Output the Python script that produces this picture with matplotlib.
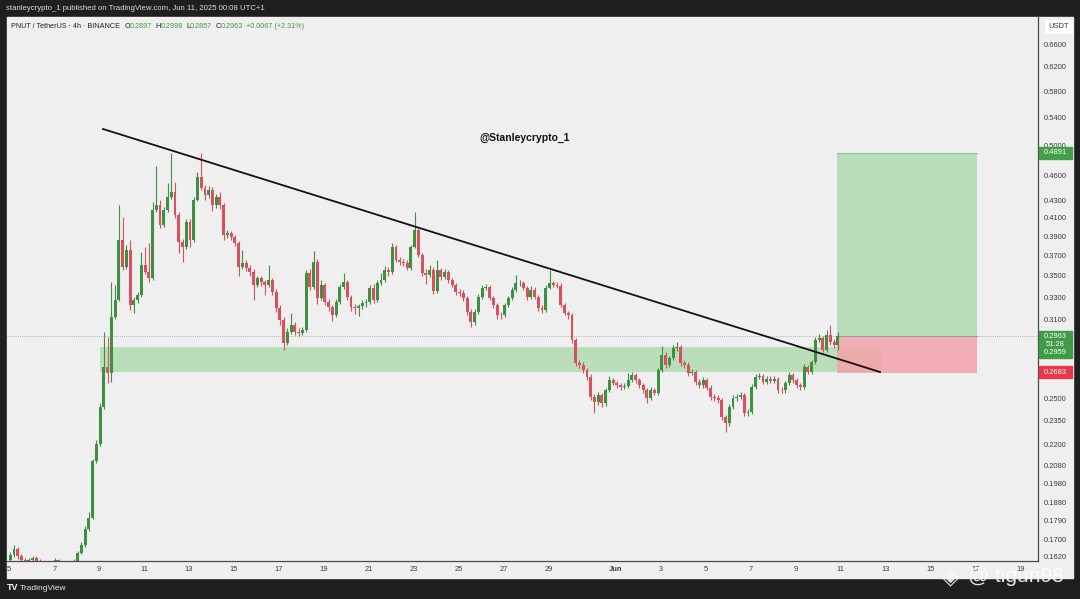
import numpy as np
import matplotlib
matplotlib.use("Agg")
import matplotlib.pyplot as plt
from matplotlib.patches import Rectangle
from matplotlib.ticker import FixedLocator, NullLocator

plt.rcParams['font.family'] = ['Liberation Sans', 'DejaVu Sans']

W, H = 1080, 599

# PNUT/USDT 4h candles, May 5 01:00 -> Jun 10 21:00 (UTC+1)
first_open = 0.1605
closes = [
    0.1628, 0.1655, 0.1623, 0.1605, 0.1596, 0.1605, 0.1614, 0.1600, 0.1592, 0.1583,
    0.1578, 0.1592, 0.1605, 0.1587, 0.1578, 0.1574, 0.1583, 0.1600, 0.1637, 0.1673,
    0.1748, 0.1801, 0.2106, 0.2206, 0.2441, 0.2725, 0.2680, 0.3124, 0.3273, 0.3858,
    0.3583, 0.3753, 0.3228, 0.3273, 0.3318, 0.3602, 0.3534, 0.3476, 0.4188, 0.4246,
    0.4020, 0.4188, 0.4341, 0.4400, 0.4131, 0.3837, 0.3785, 0.4053, 0.3858, 0.4305,
    0.4585, 0.4449, 0.4364, 0.4424, 0.4246, 0.4341, 0.4246, 0.3911, 0.3933, 0.3890,
    0.3827, 0.3583, 0.3622, 0.3573, 0.3534, 0.3410, 0.3476, 0.3438, 0.3410, 0.3457,
    0.3346, 0.3202, 0.3098, 0.2909, 0.2999, 0.3057, 0.2999, 0.2991, 0.3015, 0.3524,
    0.3392, 0.3632, 0.3291, 0.3410, 0.3255, 0.3211, 0.3141, 0.3255, 0.3392, 0.3438,
    0.3300, 0.3211, 0.3202, 0.3220, 0.3246, 0.3255, 0.3383, 0.3273, 0.3429, 0.3457,
    0.3553, 0.3534, 0.3785, 0.3652, 0.3632, 0.3622, 0.3573, 0.3785, 0.3965, 0.3703,
    0.3524, 0.3505, 0.3553, 0.3355, 0.3553, 0.3486, 0.3534, 0.3457, 0.3410, 0.3346,
    0.3337, 0.3291, 0.3167, 0.3081, 0.3167, 0.3300, 0.3383, 0.3392, 0.3291, 0.3228,
    0.3141, 0.3138, 0.3228, 0.3291, 0.3364, 0.3429, 0.3432, 0.3383, 0.3300, 0.3364,
    0.3300, 0.3202, 0.3184, 0.3383, 0.3429, 0.3410, 0.3405, 0.3228, 0.3158, 0.3141,
    0.2933, 0.2754, 0.2740, 0.2702, 0.2651, 0.2510, 0.2475, 0.2524, 0.2468, 0.2558,
    0.2629, 0.2608, 0.2593, 0.2579, 0.2586, 0.2629, 0.2665, 0.2629, 0.2593, 0.2558,
    0.2503, 0.2558, 0.2537, 0.2702, 0.2815, 0.2740, 0.2792, 0.2870, 0.2878, 0.2754,
    0.2740, 0.2680, 0.2687, 0.2615, 0.2593, 0.2629, 0.2572, 0.2510, 0.2503, 0.2489,
    0.2375, 0.2337, 0.2441, 0.2503, 0.2510, 0.2524, 0.2402, 0.2408, 0.2579, 0.2651,
    0.2658, 0.2615, 0.2636, 0.2622, 0.2636, 0.2558, 0.2555, 0.2608, 0.2665, 0.2629,
    0.2593, 0.2579, 0.2725, 0.2687, 0.2762, 0.2933, 0.2950, 0.2854, 0.2974, 0.2917,
    0.2897, 0.2963,
]
highs = [
    0.1640, 0.1673, 0.1665, 0.1632, 0.1615, 0.1614, 0.1625, 0.1622, 0.1608, 0.1600,
    0.1592, 0.1600, 0.1615, 0.1612, 0.1595, 0.1586, 0.1592, 0.1608, 0.1645, 0.1685,
    0.1760, 0.1830, 0.2120, 0.2230, 0.2470, 0.2999, 0.2958, 0.3438, 0.3410, 0.4246,
    0.4109, 0.3806, 0.3858, 0.3300, 0.3345, 0.3733, 0.3785, 0.3827, 0.4282, 0.4725,
    0.4305, 0.4220, 0.4510, 0.4896, 0.4522, 0.4160, 0.3870, 0.4085, 0.4090, 0.4340,
    0.4648, 0.4896, 0.4480, 0.4470, 0.4460, 0.4380, 0.4400, 0.4270, 0.3960, 0.3955,
    0.3915, 0.3850, 0.3753, 0.3650, 0.3600, 0.3560, 0.3500, 0.3500, 0.3460, 0.3602,
    0.3480, 0.3370, 0.3225, 0.3120, 0.3030, 0.3158, 0.3080, 0.3030, 0.3040, 0.3553,
    0.3560, 0.3743, 0.3660, 0.3460, 0.3430, 0.3280, 0.3230, 0.3280, 0.3420, 0.3520,
    0.3460, 0.3320, 0.3240, 0.3240, 0.3270, 0.3280, 0.3410, 0.3420, 0.3460, 0.3520,
    0.3590, 0.3580, 0.3830, 0.3810, 0.3680, 0.3660, 0.3650, 0.3810, 0.4165, 0.3990,
    0.3720, 0.3560, 0.3600, 0.3580, 0.3650, 0.3575, 0.3560, 0.3555, 0.3480, 0.3430,
    0.3370, 0.3360, 0.3310, 0.3190, 0.3190, 0.3330, 0.3410, 0.3420, 0.3410, 0.3310,
    0.3250, 0.3170, 0.3250, 0.3310, 0.3390, 0.3505, 0.3460, 0.3450, 0.3400, 0.3400,
    0.3390, 0.3320, 0.3225, 0.3410, 0.3553, 0.3450, 0.3440, 0.3425, 0.3250, 0.3180,
    0.3160, 0.2950, 0.2775, 0.2760, 0.2720, 0.2670, 0.2530, 0.2545, 0.2540, 0.2575,
    0.2660, 0.2645, 0.2625, 0.2610, 0.2605, 0.2680, 0.2685, 0.2680, 0.2645, 0.2610,
    0.2570, 0.2580, 0.2575, 0.2720, 0.2886, 0.2835, 0.2810, 0.2890, 0.2917, 0.2895,
    0.2775, 0.2760, 0.2710, 0.2700, 0.2635, 0.2650, 0.2645, 0.2590, 0.2530, 0.2525,
    0.2505, 0.2390, 0.2460, 0.2525, 0.2530, 0.2545, 0.2540, 0.2430, 0.2600, 0.2670,
    0.2680, 0.2675, 0.2655, 0.2660, 0.2655, 0.2650, 0.2580, 0.2625, 0.2690, 0.2680,
    0.2645, 0.2610, 0.2745, 0.2740, 0.2780, 0.2955, 0.2985, 0.2965, 0.3015, 0.3057,
    0.2940, 0.2998,
]
lows = [
    0.1595, 0.1620, 0.1612, 0.1596, 0.1585, 0.1588, 0.1598, 0.1590, 0.1582, 0.1574,
    0.1568, 0.1570, 0.1585, 0.1578, 0.1570, 0.1566, 0.1568, 0.1576, 0.1594, 0.1630,
    0.1665, 0.1740, 0.1795, 0.2095, 0.2195, 0.2430, 0.2608, 0.2615, 0.3110, 0.3260,
    0.3553, 0.3560, 0.3184, 0.3158, 0.3250, 0.3300, 0.3510, 0.3438, 0.3460, 0.4160,
    0.3990, 0.3995, 0.4170, 0.4320, 0.4100, 0.3723, 0.3632, 0.3760, 0.3780, 0.3840,
    0.4290, 0.4420, 0.4300, 0.4330, 0.4180, 0.4210, 0.4200, 0.3860, 0.3880, 0.3860,
    0.3790, 0.3500, 0.3560, 0.3540, 0.3500, 0.3273, 0.3390, 0.3400, 0.3318, 0.3390,
    0.3320, 0.3170, 0.3060, 0.2854, 0.2890, 0.2985, 0.2975, 0.2965, 0.2975, 0.3000,
    0.3360, 0.3370, 0.3240, 0.3270, 0.3225, 0.3180, 0.3090, 0.3120, 0.3240, 0.3370,
    0.3270, 0.3180, 0.3150, 0.3130, 0.3195, 0.3215, 0.3240, 0.3250, 0.3255, 0.3410,
    0.3440, 0.3500, 0.3515, 0.3630, 0.3600, 0.3595, 0.3550, 0.3555, 0.3770, 0.3680,
    0.3500, 0.3420, 0.3485, 0.3330, 0.3340, 0.3460, 0.3470, 0.3430, 0.3390, 0.3320,
    0.3310, 0.3265, 0.3140, 0.3040, 0.3060, 0.3150, 0.3280, 0.3360, 0.3270, 0.3200,
    0.3110, 0.3110, 0.3120, 0.3210, 0.3270, 0.3350, 0.3400, 0.3360, 0.3270, 0.3280,
    0.3280, 0.3180, 0.3160, 0.3170, 0.3370, 0.3390, 0.3380, 0.3210, 0.3140, 0.3110,
    0.2910, 0.2730, 0.2715, 0.2680, 0.2630, 0.2490, 0.2402, 0.2455, 0.2440, 0.2450,
    0.2545, 0.2590, 0.2575, 0.2560, 0.2565, 0.2570, 0.2615, 0.2610, 0.2575, 0.2540,
    0.2470, 0.2490, 0.2520, 0.2525, 0.2690, 0.2720, 0.2725, 0.2775, 0.2850, 0.2735,
    0.2720, 0.2660, 0.2665, 0.2595, 0.2575, 0.2575, 0.2555, 0.2490, 0.2485, 0.2470,
    0.2355, 0.2280, 0.2320, 0.2425, 0.2485, 0.2495, 0.2385, 0.2385, 0.2395, 0.2565,
    0.2635, 0.2600, 0.2600, 0.2605, 0.2605, 0.2540, 0.2535, 0.2540, 0.2595, 0.2610,
    0.2575, 0.2560, 0.2565, 0.2670, 0.2670, 0.2750, 0.2915, 0.2835, 0.2840, 0.2895,
    0.2870, 0.2857,
]

# x axis: days since May 5 00:00
xtick_days = [0, 2, 4, 6, 8, 10, 12, 14, 16, 18, 20, 22, 24,
              27, 29, 31, 33, 35, 37, 39, 41, 43, 45]
xtick_labels = ['5', '7', '9', '11', '13', '15', '17', '19', '21', '23', '25', '27', '29',
                'Jun', '3', '5', '7', '9', '11', '13', '15', '17', '19']
ytick_vals = [0.66, 0.62, 0.58, 0.54, 0.50, 0.46, 0.43, 0.41, 0.39, 0.37, 0.35, 0.33,
              0.31, 0.25, 0.235, 0.22, 0.208, 0.198, 0.188, 0.179, 0.17, 0.162]

# drawings
zone_lo, zone_hi = 0.2687, 0.2878
zone_start, zone_end = 4.04, 38.8
trend_days = [4.17, 38.75]
trend_prices = [0.5229, 0.2687]
entry, target, stop = 0.2963, 0.4891, 0.2683
pos_start, pos_end = 36.83, 43.06
last_price = 0.2963

GREEN = '#3f8f43'
RED = '#d9505f'
BG = '#efefef'
DARK = '#1f1f1f'

opens = [first_open] + closes[:-1]
t = (1 + 4 * np.arange(len(closes))) / 24.0


def fx(px):
    return px / W


def fy(py):
    return 1 - py / H


fig = plt.figure(figsize=(W / 100, H / 100), dpi=100, facecolor=DARK)
fig.add_artist(Rectangle((fx(7), fy(578)), fx(1073) - fx(7), fy(17) - fy(578),
                         transform=fig.transFigure, color=BG, zorder=0))

ax = fig.add_axes([fx(7), fy(561), fx(1038) - fx(7), fy(17) - fy(561)])
ax.set_facecolor(BG)
ax.set_yscale('log')
ax.set_ylim(0.1601, 0.7107)
ax.set_xlim(-0.102, 45.78)

# demand zone
ax.add_patch(Rectangle((zone_start, zone_lo), zone_end - zone_start, zone_hi - zone_lo,
                       facecolor='#8fcf8f', alpha=0.55, edgecolor='none', zorder=1))

# long position tool
ax.add_patch(Rectangle((pos_start, entry), pos_end - pos_start, target - entry,
                       facecolor='#a8d8a8', alpha=0.75, edgecolor='none', zorder=1))
ax.add_patch(Rectangle((pos_start, stop), pos_end - pos_start, entry - stop,
                       facecolor='#f4a3ab', alpha=0.85, edgecolor='none', zorder=1))
ax.plot([pos_start, pos_end], [target, target], color='#8fc48f', lw=0.8, zorder=2)
ax.plot([pos_start, pos_end], [entry, entry], color='#9a9a9a', lw=0.8, zorder=2)

ax.axhline(last_price, color='#a0a0a0', lw=0.6, ls=(0, (1, 1.5)), zorder=1)

# candles
colors = [GREEN if c >= o else RED for o, c in zip(opens, closes)]
ax.vlines(t, lows, highs, colors=colors, lw=0.8, zorder=3)
bottoms = np.minimum(opens, closes)
heights = np.maximum(np.abs(np.array(closes) - np.array(opens)), 0.0004)
ax.bar(t, heights, bottom=bottoms, width=0.13, color=colors, linewidth=0, zorder=4)

# trend line
ax.plot(trend_days, trend_prices, color='#111111', lw=1.3, zorder=5)

ax.text(22.95, 0.510, '@Stanleycrypto_1', fontsize=7.5, fontweight='bold',
        color='#111111', ha='center', va='center', zorder=6)

# axes styling
for s in ['top', 'left']:
    ax.spines[s].set_visible(False)
ax.spines['right'].set_color('#4a4a4a')
ax.spines['bottom'].set_color('#4a4a4a')
ax.spines['right'].set_linewidth(0.9)
ax.spines['bottom'].set_linewidth(0.9)

ax.yaxis.tick_right()
ax.yaxis.set_major_locator(FixedLocator(ytick_vals))
ax.yaxis.set_minor_locator(NullLocator())
ax.set_yticklabels(['%.4f' % v for v in ytick_vals])
ax.tick_params(axis='y', length=0, pad=4, labelsize=5.4, labelcolor='#3a3a3a')

ax.set_xticks(xtick_days)
ax.set_xticklabels(xtick_labels)
ax.xaxis.set_minor_locator(NullLocator())
ax.tick_params(axis='x', length=0, pad=3.5, labelsize=5.4, labelcolor='#3a3a3a')
for lab in ax.get_xticklabels():
    if lab.get_text() == 'Jun':
        lab.set_fontweight('bold')


# price labels on the right scale (boxes span the whole scale width)
def price_label(y_top, y_bot, color, txt):
    fig.add_artist(Rectangle((fx(1039), fy(y_bot)), fx(1072) - fx(1039), fy(y_top) - fy(y_bot),
                             transform=fig.transFigure, color=color, zorder=6))
    fig.text(fx(1055.5), fy((y_top + y_bot) / 2), txt, fontsize=5.4, color='white',
             ha='center', va='center', linespacing=1.3, zorder=7)


price_label(147, 159, '#43a047', '%.4f' % target)
price_label(331, 358, '#3f9b45', '%.4f\n51:28\n0.2959' % last_price)
price_label(366, 378, '#e5384a', '%.4f' % stop)

fig.text(fx(1059), fy(27), 'USDT', fontsize=5.4, color='#333333', ha='center', va='center',
         bbox=dict(boxstyle='square,pad=0.45', fc='white', ec='none'))

# header
fig.text(fx(6), fy(8), 'stanleycrypto_1 published on TradingView.com, Jun 11, 2025 00:08 UTC+1',
         fontsize=5.6, color='#dcdcdc', va='center', ha='left')

# legend line, laid out piece by piece
legend_parts = [
    ('PNUT / TetherUS \u00b7 4h \u00b7 BINANCE', '#222222', 4.5),
    ('O', '#222222', 0), ('0.2897', '#3f9b45', 3),
    ('H', '#222222', 0), ('0.2998', '#3f9b45', 3),
    ('L', '#222222', 0), ('0.2857', '#3f9b45', 3),
    ('C', '#222222', 0), ('0.2963', '#3f9b45', 3),
    ('+0.0067 (+2.31%)', '#3f9b45', 0),
]
renderer = fig.canvas.get_renderer()
cur = 11
for txt, col, gap in legend_parts:
    tt = fig.text(fx(cur), fy(26), txt, fontsize=5.2, color=col, va='center', ha='left')
    cur += tt.get_window_extent(renderer).width + gap

# footer
fig.text(fx(7), fy(588), 'TV', fontsize=6.5, fontweight='bold', color='white', va='center')
fig.text(fx(20), fy(588), 'TradingView', fontsize=6, color='#e8e8e8', va='center')

fig.text(fx(950), fy(577), '\u25c8', fontsize=16, color='white', alpha=0.85,
         ha='center', va='center', family=['DejaVu Sans'])
fig.text(fx(968), fy(577), '@ tigun98', fontsize=15, color='white', alpha=0.9,
         ha='left', va='center')

fig.savefig('out.png', dpi=100, facecolor=DARK)
